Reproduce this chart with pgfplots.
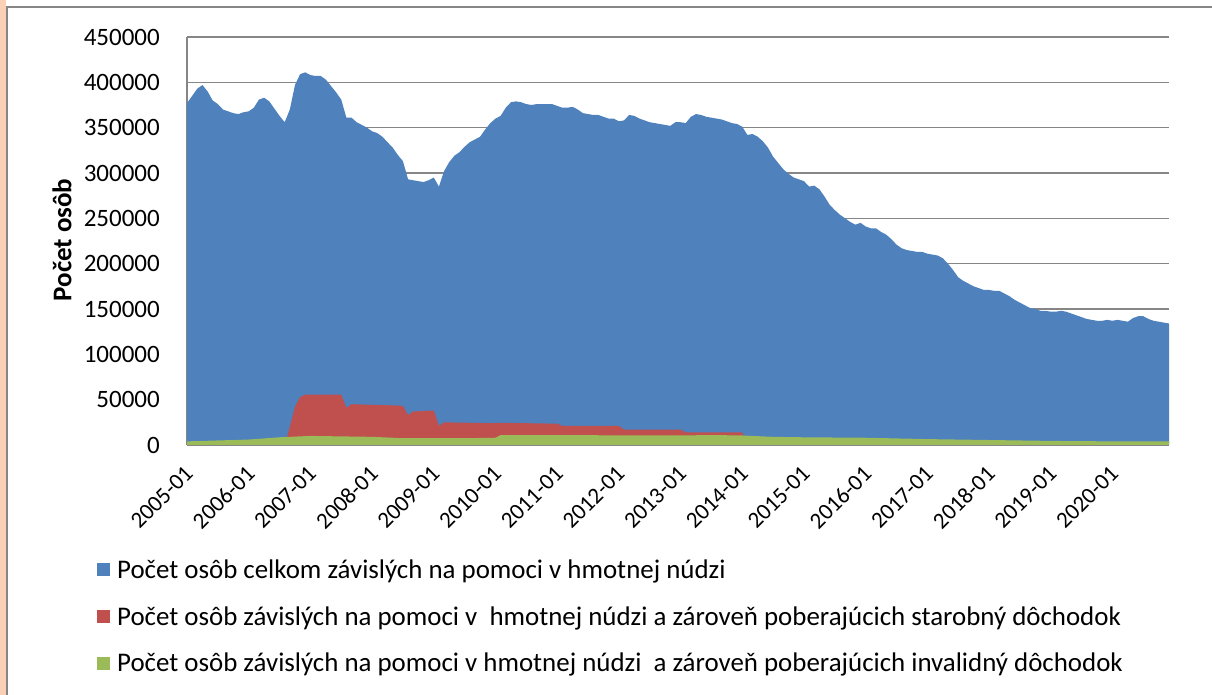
\documentclass[border=0pt]{standalone}
\usepackage{fontspec}
\setmainfont{Carlito}
\usepackage{pgfplots}
\usepackage{pgfplotstable}
\pgfplotsset{compat=1.18}
\definecolor{cblue}{RGB}{79,129,189}
\definecolor{cred}{RGB}{192,80,77}
\definecolor{cgreen}{RGB}{155,187,89}
\definecolor{cgrid}{RGB}{134,134,134}
\definecolor{peach}{RGB}{250,208,182}

\pgfplotstableread{
m v
0 377000
1 385000
2 393000
3 397000
4 390000
5 380000
6 376000
7 370000
8 368000
9 366000
10 365000
11 367000
12 368000
13 372000
14 381000
15 383000
16 379000
17 371000
18 363000
19 356000
20 370000
21 397000
22 409000
23 411000
24 408000
25 407000
26 407000
27 403000
28 396000
29 389000
30 381000
31 361000
32 361000
33 356000
34 353000
35 350000
36 346000
37 344000
38 340000
39 334000
40 328000
41 320000
42 313000
43 293000
44 292000
45 291000
46 290000
47 292000
48 295000
49 285000
50 302000
51 312000
52 319000
53 323000
54 329000
55 334000
56 337000
57 340000
58 348000
59 355000
60 360000
61 363000
62 372000
63 378000
64 379000
65 378000
66 376000
67 375000
68 376000
69 376000
70 376000
71 376000
72 374000
73 372000
74 372000
75 373000
76 370000
77 366000
78 365000
79 364000
80 364000
81 362000
82 360000
83 360000
84 357000
85 358000
86 364000
87 363000
88 360000
89 358000
90 356000
91 355000
92 354000
93 353000
94 352000
95 356000
96 356000
97 355000
98 362000
99 365000
100 364000
101 362000
102 361000
103 360000
104 359000
105 357000
106 355000
107 354000
108 351000
109 342000
110 343000
111 340000
112 335000
113 328000
114 318000
115 311000
116 304000
117 299000
118 295000
119 293000
120 291000
121 285000
122 286000
123 282000
124 274000
125 265000
126 259000
127 254000
128 250000
129 246000
130 243000
131 245000
132 241000
133 239000
134 239000
135 235000
136 232000
137 227000
138 221000
139 217000
140 215000
141 214000
142 213000
143 213000
144 211000
145 210000
146 209000
147 206000
148 200000
149 193000
150 185000
151 181000
152 178000
153 175000
154 173000
155 171000
156 171000
157 170000
158 170000
159 167000
160 164000
161 160000
162 157000
163 154000
164 151000
165 150000
166 148000
167 148000
168 147000
169 147000
170 148000
171 147000
172 145000
173 143000
174 141000
175 139000
176 138000
177 137000
178 137000
179 138000
180 137000
181 138000
182 137000
183 136000
184 140000
185 142000
186 142000
187 139000
188 137000
189 136000
190 135000
191 134000
}\bluedata

\pgfplotstableread{
m v
19 0
20 20000
21 42000
22 53000
23 55500
30 55500
31 41000
32 45000
41 43500
42 43000
43 33000
44 37000
48 38000
49 21000
50 25000
60 24000
61 24500
72 23500
73 21000
84 21000
85 17000
96 17000
97 14000
108 14000
109 0
}\reddata

\pgfplotstableread{
m v
0 4000
6 5000
12 6000
18 8500
24 10000
30 9500
36 9000
42 7500
48 7500
54 7500
60 8000
61 11000
70 11000
76 11000
84 10500
90 10500
96 10500
102 11000
108 10500
114 9000
120 8500
132 8000
144 6500
156 5500
168 4500
180 4000
191 4000
}\greendata

\begin{document}
\begin{tikzpicture}[x=1pt,y=1pt]
\useasboundingbox (0,0) rectangle (1212,695);
\fill[peach] (0,0) rectangle (6,695);
\draw[cgrid, line width=1.2pt] (7,0) -- (7,688) -- (1212,688);
\node[rotate=90, font=\fontsize{27}{32}\selectfont\bfseries] at (62,455) {Počet osôb};
\begin{axis}[
  at={(187pt,250pt)}, anchor=south west,
  scale only axis, width=982pt, height=408pt,
  xmin=0, xmax=191, ymin=0, ymax=450000,
  axis x line*=bottom, axis y line*=left,
  axis line style={-, cgrid, line width=1.5pt},
  major tick length=0pt,
  ymajorgrids, grid style={cgrid, line width=1.5pt},
  ytick={0,50000,...,450000},
  scaled y ticks=false,
  /pgf/number format/.cd, fixed, 1000 sep={}, assume math mode=true,
  /pgfplots/.cd,
  yticklabel style={anchor=east, inner sep=0pt, xshift=-27pt, font=\fontsize{25}{30}\selectfont},
  xtick={0,12,...,180},
  xticklabels={2005-01,2006-01,2007-01,2008-01,2009-01,2010-01,2011-01,2012-01,2013-01,2014-01,2015-01,2016-01,2017-01,2018-01,2019-01,2020-01},
  xticklabel style={yshift=-25pt, xshift=2pt, rotate=45, anchor=east, inner sep=0pt, font=\fontsize{23}{27}\selectfont},
  legend style={at={(axis description cs:-0.0917,-0.281)}, anchor=north west, draw=none, fill=none,
    inner sep=0pt, row sep=26.5pt, column sep=7pt,
    nodes={inner sep=0pt, anchor=west}, font=\fontsize{26.9}{31}\selectfont},
  legend cell align=left,
  legend image code/.code={\fill[#1] (0pt,-6.5pt) rectangle (13pt,6.5pt);},
]
\addplot[fill=cblue, draw=none] table[x=m,y=v] {\bluedata} \closedcycle;
\addlegendentry{Počet osôb celkom závislých na pomoci v hmotnej núdzi}
\addplot[fill=cred, draw=none] table[x=m,y=v] {\reddata} \closedcycle;
\addlegendentry{Počet osôb závislých na pomoci v\ \ hmotnej núdzi a zároveň poberajúcich starobný dôchodok}
\addplot[fill=cgreen, draw=none] table[x=m,y=v] {\greendata} \closedcycle;
\addlegendentry{Počet osôb závislých na pomoci v hmotnej núdzi\ \ a zároveň poberajúcich invalidný dôchodok}
\end{axis}
\end{tikzpicture}
\end{document}
